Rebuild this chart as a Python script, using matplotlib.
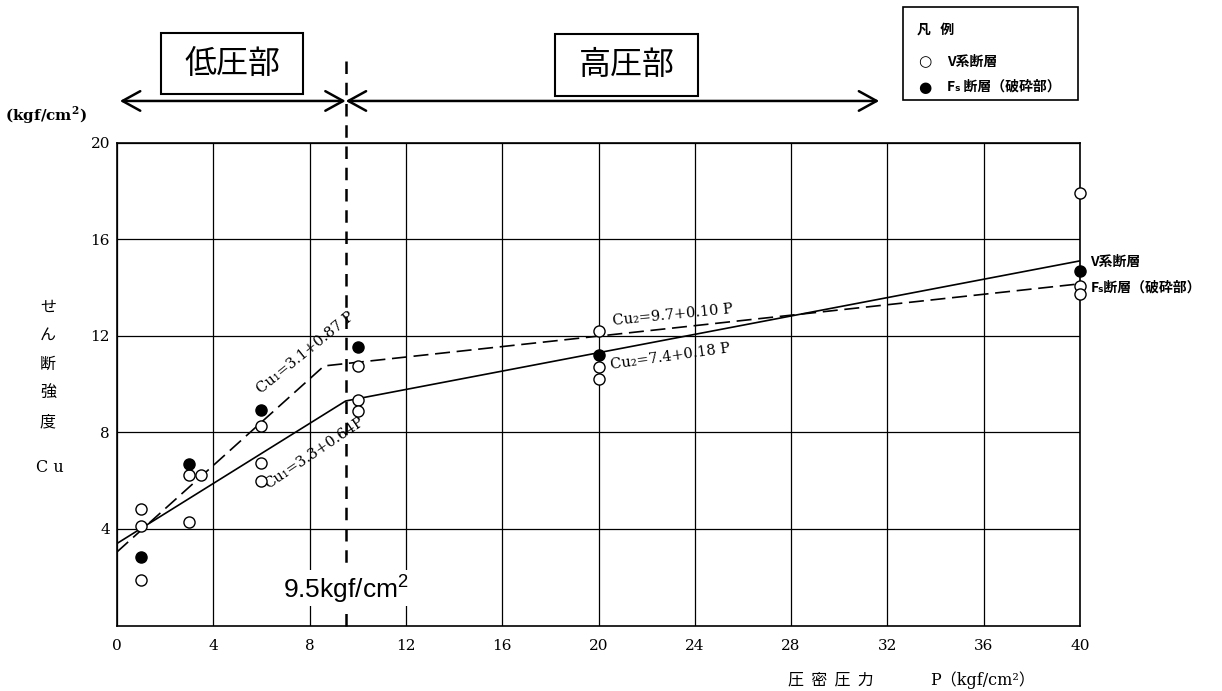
import matplotlib
matplotlib.use("Agg")
import matplotlib.pyplot as plt
from matplotlib.patches import Rectangle

# ---- data ----
v_P = [1, 1, 1, 3, 3, 3.5, 6, 6, 6, 10, 10, 10, 20, 20, 20, 40, 40, 40]
v_Cu = [4.82, 4.12, 1.88, 6.22, 4.29, 6.22, 8.26, 6.75, 5.98, 10.73, 9.33, 8.87,
        12.21, 10.7, 10.22, 17.93, 14.07, 13.73]
f_P = [1, 3, 6, 10, 20, 40]
f_Cu = [2.85, 6.71, 8.91, 11.52, 11.2, 14.67]

solid_P = [0, 9.5, 40]
solid_Cu = [3.4, 9.3, 15.1]
dashed_P = [0, 8.6, 40]
dashed_Cu = [3.05, 10.75, 14.15]

boundary_P = 9.5
x_ticks = [0, 4, 8, 12, 16, 20, 24, 28, 32, 36, 40]
y_ticks = [4, 8, 12, 16, 20]

W, H = 1222, 691
fig = plt.figure(figsize=(W / 100, H / 100), dpi=100)
fig.patch.set_facecolor("white")

def fx(px):
    return px / W

def fy(py):
    return 1 - py / H

ax = fig.add_axes([fx(117), fy(625.6), fx(1080) - fx(117), fy(142.5) - fy(625.6)])
ax.set_xlim(0, 40)
ax.set_ylim(0, 20)
ax.set_xticks(x_ticks)
ax.set_yticks(y_ticks)
ax.grid(True, color="black", lw=0.9)
for s in ax.spines.values():
    s.set_linewidth(1.2)
ax.tick_params(length=0, pad=10, labelsize=11)
ax.tick_params(axis="y", pad=5)
for lab in ax.get_xticklabels() + ax.get_yticklabels():
    lab.set_family("DejaVu Serif")

serif = ["DejaVu Serif"]
cjk = ["Noto Sans CJK JP", "DejaVu Sans"]

# fit lines
ax.plot(solid_P, solid_Cu, color="black", lw=1.2, zorder=3)
ax.plot(dashed_P, dashed_Cu, color="black", lw=1.2, dashes=(9, 4), zorder=3)

# points
ax.plot(v_P, v_Cu, "o", ms=8, mfc="white", mec="black", mew=1.0, zorder=4, clip_on=False)
ax.plot(f_P, f_Cu, "o", ms=8, mfc="black", mec="black", zorder=4, clip_on=False)

# boundary line
ax.plot([boundary_P, boundary_P], [0, 23.66], color="black", lw=1.8,
        dashes=(5, 3.5), clip_on=False, zorder=5)
ax.text(boundary_P, 1.55, "9.5kgf/cm$^{\\mathregular{2}}$", fontsize=19, family="Liberation Sans",
        ha="center", va="center", zorder=6,
        bbox=dict(facecolor="white", edgecolor="none", pad=1))

# arrows
arrow_y = 21.72
ap = dict(arrowstyle="<->,head_length=0.4,head_width=0.22", lw=1.8,
          mutation_scale=32, shrinkA=0, shrinkB=0, color="black")
ax.annotate("", xy=(0.12, arrow_y), xytext=(boundary_P, arrow_y),
            arrowprops=ap, annotation_clip=False)
ax.annotate("", xy=(31.66, arrow_y), xytext=(boundary_P, arrow_y),
            arrowprops=ap, annotation_clip=False)

# region boxes
for (x0, y0, x1, y1, label) in [(161, 33, 303, 94, "低圧部"), (555, 34, 698, 96, "高圧部")]:
    fig.patches.append(Rectangle((fx(x0), fy(y1)), fx(x1) - fx(x0), fy(y0) - fy(y1),
                                 transform=fig.transFigure, fill=False,
                                 edgecolor="black", lw=1.5))
    fig.text(fx((x0 + x1) / 2), fy((y0 + y1) / 2), label, family=cjk, fontsize=23,
             ha="center", va="center")

# legend box
fig.patches.append(Rectangle((fx(903), fy(100)), fx(1078) - fx(903), fy(7) - fy(100),
                             transform=fig.transFigure, fill=False,
                             edgecolor="black", lw=1.2))
fig.text(fx(917), fy(30), "凡   例", family=cjk, fontsize=10, fontweight="bold",
         ha="left", va="center")
fig.text(fx(925), fy(62), "○", family=["DejaVu Sans"], fontsize=11, ha="center", va="center")
fig.text(fx(947), fy(62), "V系断層", family=cjk, fontsize=10, fontweight="bold",
         ha="left", va="center")
fig.text(fx(925), fy(87), "●", family=["DejaVu Sans"], fontsize=11, ha="center", va="center")
fig.text(fx(947), fy(87), "Fₛ 断層（破砕部）", family=cjk, fontsize=10, fontweight="bold",
         ha="left", va="center")

# unit label
fig.text(fx(5), fy(115), "(kgf/cm$^{\\mathregular{2}}$)", family=serif, fontsize=11,
         fontweight="bold", ha="left", va="center")

# y label (vertical stack)
for ch, py in zip(["せ", "ん", "断", "強", "度"], [307, 335, 364, 393, 422]):
    fig.text(fx(48), fy(py), ch, family=cjk, fontsize=11.5, ha="center", va="center")
fig.text(fx(50), fy(467), "C u", family=serif, fontsize=11.5, ha="center", va="center")

# x label
fig.text(fx(788), fy(680), "圧  密  圧  力", family=cjk, fontsize=11.5, ha="left", va="center")
fig.text(fx(930), fy(680), "P（kgf/cm²）", family=["DejaVu Serif", "Noto Sans CJK JP"],
         fontsize=11.5, ha="left", va="center")

# equation annotations
ann = dict(family=serif, fontsize=10.5, ha="center", va="center", rotation_mode="anchor")
ax.text(7.85, 11.3, "Cu₁=3.1+0.87 P", rotation=39, **ann)
ax.text(8.2, 7.15, "Cu₁=3.3+0.64P", rotation=34, **ann)
ax.text(23.07, 12.87, "Cu₂=9.7+0.10 P", rotation=5.7, **ann)
ax.text(23.0, 11.14, "Cu₂=7.4+0.18 P", rotation=8, **ann)

# series labels at the right
ax.text(40.4, 15.04, "V系断層", family=cjk, fontsize=10, fontweight="bold",
        ha="left", va="center")
ax.text(40.45, 14.0, "Fₛ断層（破砕部）", family=cjk, fontsize=10, fontweight="bold",
        ha="left", va="center")

fig.savefig("out.png", dpi=100, facecolor="white")
